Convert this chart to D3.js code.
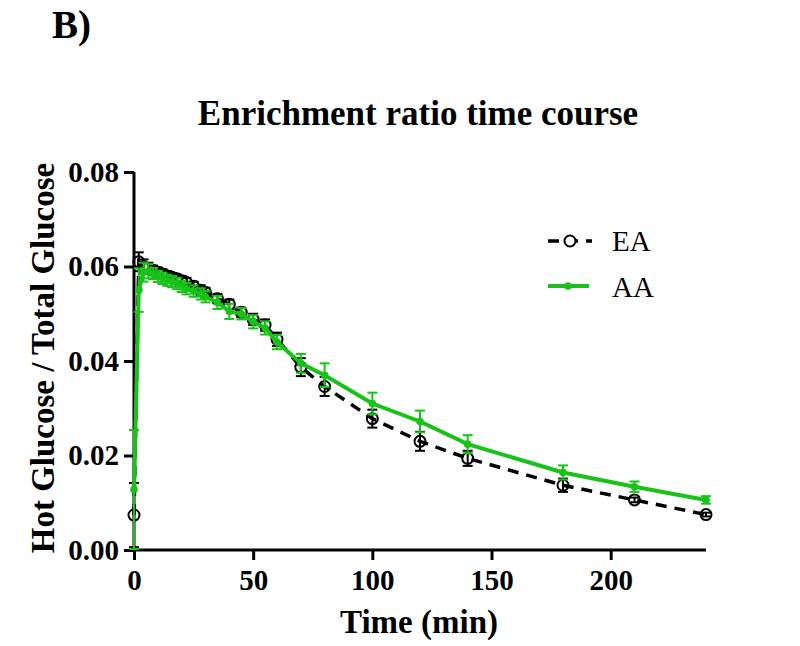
<!DOCTYPE html>
<html><head><meta charset="utf-8">
<script src="https://cdn.jsdelivr.net/npm/d3@7"></script>
<style>body{margin:0;background:#fff}text{font-family:"Liberation Serif","Times New Roman",serif}</style>
</head><body><svg id="c" width="800" height="646"></svg>
<script>
const times   = [0,2,4,6,8,10,12,14,16,18,20,22,25,28,30,35,40,45,50,55,60,70,80,100,120,140,180,210,240];
const eaMean  = [0.0074,0.0610,0.0600,0.0596,0.0592,0.0588,0.0584,0.0580,0.0577,0.0574,0.0570,0.0566,0.0558,0.0550,0.0545,0.0532,0.0520,0.0503,0.0488,0.0476,0.0446,0.0387,0.0346,0.0278,0.0230,0.0194,0.0137,0.0106,0.0075];
const eaErr   = [0.0068,0.0020,0.0015,0.0012,0.0010,0.0010,0.0010,0.0010,0.0009,0.0009,0.0010,0.0010,0.0010,0.0010,0.0010,0.0010,0.0010,0.0010,0.0012,0.0012,0.0014,0.0019,0.0020,0.0019,0.0020,0.0016,0.0014,0.0005,0.0004];
const aaMean  = [0.0128,0.0550,0.0588,0.0590,0.0585,0.0579,0.0575,0.0571,0.0568,0.0564,0.0558,0.0553,0.0548,0.0542,0.0536,0.0524,0.0505,0.0500,0.0483,0.0470,0.0440,0.0395,0.0370,0.0310,0.0272,0.0224,0.0164,0.0134,0.0106];
const aaErr   = [0.0126,0.0046,0.0020,0.0015,0.0012,0.0012,0.0012,0.0012,0.0012,0.0012,0.0012,0.0012,0.0012,0.0012,0.0012,0.0014,0.0016,0.0012,0.0014,0.0014,0.0015,0.0020,0.0025,0.0023,0.0023,0.0019,0.0015,0.0011,0.0008];
const xTicks  = [0,50,100,150,200];
const yTicks  = [0,0.02,0.04,0.06,0.08];
const seriesNames = ["EA","AA"];

const svg = d3.select("#c");
const green = "#19c219";
const x = d3.scaleLinear().domain([0,240]).range([134,706]);
const y = d3.scaleLinear().domain([0,0.08]).range([550,172]);

// texts
svg.append("text").attr("x",52).attr("y",38).attr("font-size",39).attr("font-weight","bold").text("B)");
svg.append("text").attr("x",418).attr("y",125).attr("text-anchor","middle").attr("font-size",35).attr("font-weight","bold").text("Enrichment ratio time course");
svg.append("text").attr("transform","translate(46,358) rotate(-90)").attr("text-anchor","middle").attr("dominant-baseline","middle").attr("font-size",33).attr("font-weight","bold").text("Hot Glucose / Total Glucose");
svg.append("text").attr("x",419).attr("y",633).attr("text-anchor","middle").attr("font-size",33).attr("font-weight","bold").text("Time (min)");

// axes
const xAxis = svg.append("g").attr("transform","translate(0,550)")
  .call(d3.axisBottom(x).tickValues(xTicks).tickSize(10).tickSizeOuter(0).tickFormat(d3.format("d")));
const yAxis = svg.append("g").attr("transform","translate(134,0)")
  .call(d3.axisLeft(y).tickValues(yTicks).tickSize(10).tickSizeOuter(0).tickFormat(d3.format(".2f")));
[xAxis,yAxis].forEach(a=>{
  a.select(".domain").attr("stroke","#000").attr("stroke-width",3);
  a.selectAll(".tick line").attr("stroke","#000").attr("stroke-width",3);
  a.selectAll(".tick text").attr("font-family","Liberation Serif").attr("font-size",29).attr("font-weight","bold").attr("fill","#000");
});
xAxis.selectAll(".tick text").attr("y",40).attr("dy",null);
yAxis.selectAll(".tick text").attr("x",-15);
xAxis.select(".domain").attr("d","M132.5,0H706");
yAxis.select(".domain").attr("d","M0,551.5V172");

function drawSeries(mean, err, color, dashed, open){
  const g = svg.append("g");
  const data = times.map((t,i)=>({t, m:mean[i], e:err[i]}));
  data.forEach(d=>{
    const cx = x(d.t);
    g.append("line").attr("x1",cx).attr("x2",cx).attr("y1",y(d.m-d.e)).attr("y2",y(d.m+d.e)).attr("stroke",color).attr("stroke-width",2);
    [d.m-d.e,d.m+d.e].forEach(v=>g.append("line").attr("x1",cx-5).attr("x2",cx+5).attr("y1",y(v)).attr("y2",y(v)).attr("stroke",color).attr("stroke-width",2));
  });
  g.append("path").datum(data).attr("fill","none").attr("stroke",color).attr("stroke-width",dashed?3.5:4)
    .attr("stroke-dasharray",dashed?"11,8":null)
    .attr("d",d3.line().x(d=>x(d.t)).y(d=>y(d.m)));
  g.selectAll("circle").data(data).enter().append("circle")
    .attr("cx",d=>x(d.t)).attr("cy",d=>y(d.m)).attr("r",open?5.5:3.8)
    .attr("fill",open?"#fff":color).attr("fill-opacity",open?0:1).attr("stroke",color).attr("stroke-width",open?2:0);
}
drawSeries(eaMean,eaErr,"#000",true,true);
drawSeries(aaMean,aaErr,green,false,false);

// legend
const lg = svg.append("g");
lg.append("line").attr("x1",548).attr("x2",592).attr("y1",241).attr("y2",241).attr("stroke","#000").attr("stroke-width",3.5).attr("stroke-dasharray","11,8");
lg.append("circle").attr("cx",570).attr("cy",241).attr("r",5.5).attr("fill","#fff").attr("stroke","#000").attr("stroke-width",2);
lg.append("text").attr("x",612).attr("y",251).attr("font-size",29).text(seriesNames[0]);
lg.append("line").attr("x1",548).attr("x2",589).attr("y1",286).attr("y2",286).attr("stroke",green).attr("stroke-width",4);
lg.append("circle").attr("cx",568).attr("cy",286).attr("r",3.8).attr("fill",green);
lg.append("text").attr("x",612).attr("y",297).attr("font-size",29).text(seriesNames[1]);
</script></body></html>
